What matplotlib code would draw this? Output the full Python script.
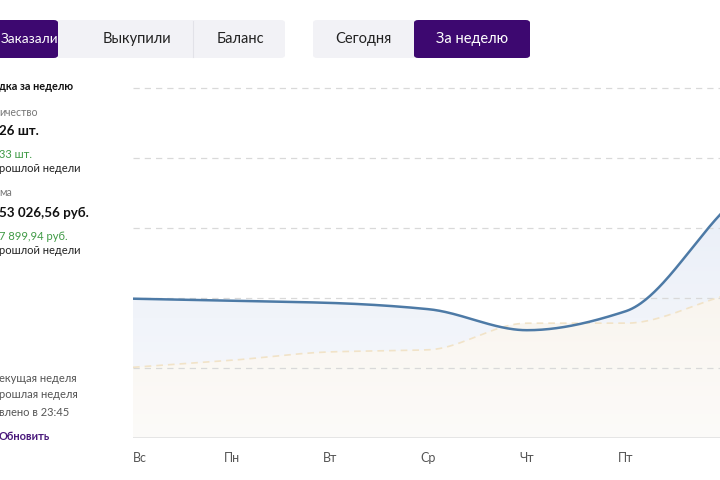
import numpy as np
import matplotlib
matplotlib.use("Agg")
import matplotlib.pyplot as plt
from matplotlib.patches import FancyBboxPatch, Rectangle
from matplotlib.path import Path
from matplotlib.patches import PathPatch

plt.rcParams['font.family'] = ['Lato', 'DejaVu Sans']

# ---- data ----
days = ["Вс", "Пн", "Вт", "Ср", "Чт", "Пт", "Сб"]
current_week = [19.9, 19.6, 19.3, 18.4, 15.4, 18.1, 32.5]
previous_week = [10.1, 11.1, 12.3, 12.6, 16.4, 16.4, 20.3]
grid_levels = [10, 20, 30, 40, 50]

tabs_left = ["Заказали", "Выкупили", "Баланс"]
tabs_right = ["Сегодня", "За неделю"]

W, H = 720, 480
fig = plt.figure(figsize=(7.2, 4.8), dpi=100)
fig.patch.set_facecolor("white")

PURPLE = "#3d0870"
LIGHT = "#f2f2f6"

def fx(x):
    return x / W

def fy(y):
    return 1 - y / H

def box(x0, x1, y0, y1, color, rounded=True):
    if rounded:
        p = FancyBboxPatch((fx(x0), fy(y1)), fx(x1 - x0), (y1 - y0) / H,
                           boxstyle="round,pad=0,rounding_size=0.006",
                           transform=fig.transFigure, facecolor=color,
                           edgecolor="none", zorder=1)
    else:
        p = Rectangle((fx(x0), fy(y1)), fx(x1 - x0), (y1 - y0) / H,
                      transform=fig.transFigure, facecolor=color,
                      edgecolor="none", zorder=1)
    fig.patches.append(p)

# Buttons
box(150, 285, 20, 58, LIGHT)
box(58, 200, 20, 58, LIGHT, rounded=False)
box(-20, 58, 20, 58, PURPLE)
fig.add_artist(plt.Line2D([fx(193), fx(193)], [fy(21), fy(57)],
                          transform=fig.transFigure, color="#e2e2e8", lw=0.8))
box(313, 420, 20, 58, LIGHT)
box(414, 530, 20, 58, PURPLE)

btn_fs = 10.5
fig.text(fx(1), fy(39), tabs_left[0], color="white", fontsize=9.8,
         ha="left", va="center")
fig.text(fx(137), fy(39), tabs_left[1], color="#222222", fontsize=btn_fs,
         ha="center", va="center")
fig.text(fx(240), fy(39), tabs_left[2], color="#222222", fontsize=btn_fs,
         ha="center", va="center")
fig.text(fx(363), fy(39), tabs_right[0], color="#222222", fontsize=btn_fs,
         ha="center", va="center")
fig.text(fx(472), fy(39), tabs_right[1], color="white", fontsize=btn_fs,
         ha="center", va="center")

# Left panel texts
def lt(y, s, size, color, weight="normal"):
    fig.text(fx(-1), fy(y), s, fontsize=size, color=color, ha="left",
             va="center", fontweight=weight)

lt(87, "дка за неделю", 7.8, "#111111", "bold")
lt(112, "ичество", 7.6, "#777777")
lt(131, "26 шт.", 9.6, "#111111", "bold")
lt(154, "33 шт.", 8, "#3f9a45")
lt(168, "рошлой недели", 8, "#222222")
lt(193, "ма", 7.6, "#777777")
lt(213, "53 026,56 руб.", 9.6, "#111111", "bold")
lt(236, "7 899,94 руб.", 8, "#3f9a45")
lt(250, "рошлой недели", 8, "#222222")
lt(378, "екущая неделя", 8, "#555555")
lt(395, "рошлая неделя", 8, "#555555")
lt(412, "влено в 23:45", 8, "#555555")
lt(436, "Обновить", 8, "#4a1a7c", "bold")

# ---- chart ----
left_px, base_px, top_px = 133, 438, 80
ax = fig.add_axes([fx(left_px), fy(base_px), 1 - fx(left_px), (base_px - top_px) / H])
step_px = 98.5
xs = np.arange(len(days))
xmax = (W - left_px) / step_px
ax.set_xlim(0, xmax)
ax.set_ylim(0, (base_px - top_px) / 7.0)
for s in ax.spines.values():
    s.set_visible(False)
ax.set_yticks([])
ax.set_facecolor("none")


def monotone(x, y, n=400):
    x = np.asarray(x, float)
    y = np.asarray(y, float)
    h = np.diff(x)
    d = np.diff(y) / h
    m = np.zeros_like(y)
    m[0], m[-1] = d[0], d[-1]
    for k in range(1, len(x) - 1):
        if d[k - 1] * d[k] <= 0:
            m[k] = 0
        else:
            w1 = 2 * h[k] + h[k - 1]
            w2 = h[k] + 2 * h[k - 1]
            m[k] = (w1 + w2) / (w1 / d[k - 1] + w2 / d[k])
    xx = np.linspace(x[0], x[-1], n)
    idx = np.clip(np.searchsorted(x, xx) - 1, 0, len(x) - 2)
    t = (xx - x[idx]) / h[idx]
    h00 = 2 * t**3 - 3 * t**2 + 1
    h10 = t**3 - 2 * t**2 + t
    h01 = -2 * t**3 + 3 * t**2
    h11 = t**3 - t**2
    yy = h00 * y[idx] + h10 * h[idx] * m[idx] + h01 * y[idx + 1] + h11 * h[idx] * m[idx + 1]
    return xx, yy


def gradient_fill(xx, yy, top_rgb, bot_rgb, z):
    verts = [(xx[0], 0)] + list(zip(xx, yy)) + [(xx[-1], 0), (xx[0], 0)]
    codes = [Path.MOVETO] + [Path.LINETO] * (len(verts) - 2) + [Path.CLOSEPOLY]
    patch = PathPatch(Path(verts, codes), facecolor="none", edgecolor="none")
    ax.add_patch(patch)
    ymax = ax.get_ylim()[1]
    g = np.linspace(1, 0, 256)[:, None]
    top = np.array(top_rgb)
    bot = np.array(bot_rgb)
    img = top[None, None, :] * g[..., None] + bot[None, None, :] * (1 - g[..., None])
    img = np.repeat(img, 2, axis=1)
    im = ax.imshow(img, extent=[xx[0], xx[-1], 0, ymax], aspect="auto",
                   origin="upper", zorder=z)
    im.set_clip_path(patch)


def rgb(h):
    return matplotlib.colors.to_rgb(h)

cx, cy = monotone(xs, current_week)
px_, py_ = monotone(xs, previous_week)

gradient_fill(cx, cy, rgb("#e3eaf6"), rgb("#f8f9fc"), 1)
gradient_fill(px_, py_, rgb("#f5ecdf"), rgb("#fcfbf9"), 2)

for g in grid_levels:
    ax.axhline(g, color="#d9d9d9", lw=0.9, ls=(0, (5, 4)), zorder=3)
ax.axhline(0, color="#e3e3e3", lw=2.0, zorder=3)

ax.plot(px_, py_, color="#f1e3c8", lw=1.2, ls=(0, (4, 3)), zorder=4)
ax.plot(cx, cy, color="#4d7aa6", lw=1.8, zorder=5, solid_capstyle="round")

visible = [i for i in xs if i <= xmax]
ax.set_xticks(visible)
ax.set_xticklabels([days[i] for i in visible], fontsize=9, color="#555555")
ax.tick_params(axis="x", length=0, pad=10)
ax.get_xticklabels()[0].set_ha("left")

fig.savefig("out.png", dpi=100, facecolor="white")
